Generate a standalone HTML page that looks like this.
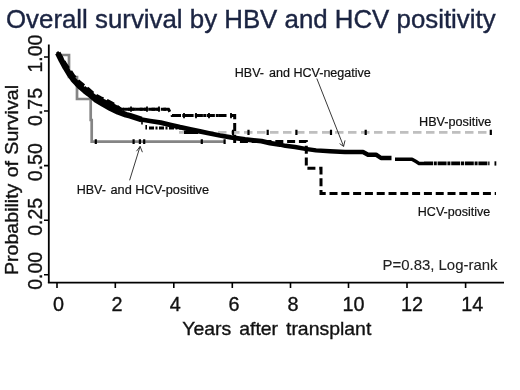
<!DOCTYPE html>
<html><head><meta charset="utf-8"><title>Overall survival by HBV and HCV positivity</title>
<style>
html,body{margin:0;padding:0;background:#fff;}
body{width:520px;height:390px;overflow:hidden;font-family:"Liberation Sans",Arial,sans-serif;}
svg{display:block;}
text{font-family:"Liberation Sans",Arial,sans-serif;stroke:#111;stroke-width:0.35px;}
.t{stroke:#1b2442;stroke-width:0.4px;}
.s{stroke-width:0.1px;}
.sg text{stroke-width:0.2px;}
</style></head><body>
<svg width="520" height="390" viewBox="0 0 520 390">
<rect width="520" height="390" fill="#fff"/>
<!-- title -->
<text class="t" x="6" y="28" font-size="25.6" fill="#1b2442" textLength="489.6" lengthAdjust="spacingAndGlyphs">Overall survival by HBV and HCV positivity</text>

<!-- axes -->
<g stroke="#000" stroke-width="1.8" fill="none">
<path d="M48.8,44.5V283"/>
<path d="M47.9,282.6H504"/>
</g>
<g stroke="#000" stroke-width="1.6" fill="none">
<path d="M44,57H49M44,111H49M44,165.6H49M44,220.2H49M44,274.8H49"/>
<path d="M57,283V288M115.3,283V288M173.8,283V288M232.3,283V288M290.5,283V288M348.5,283V288M407,283V288M465.6,283V288"/>
</g>

<!-- y tick labels -->
<g font-size="19.5" fill="#111" text-anchor="middle">
<text transform="translate(42.2,53.6) rotate(-90)">1.00</text>
<text transform="translate(42.2,107) rotate(-90)">0.75</text>
<text transform="translate(42.2,162.2) rotate(-90)">0.50</text>
<text transform="translate(42.2,216.8) rotate(-90)">0.25</text>
<text transform="translate(42.2,270.8) rotate(-90)">0.00</text>
</g>
<text transform="translate(18.3,275) rotate(-90)" font-size="17.8" word-spacing="0.8" fill="#111" textLength="190" lengthAdjust="spacingAndGlyphs">Probability of Survival</text>

<!-- x tick labels -->
<g font-size="19.8" fill="#111" text-anchor="middle">
<text x="58.5" y="310.6">0</text>
<text x="117" y="310.6">2</text>
<text x="175.3" y="310.6">4</text>
<text x="234" y="310.6">6</text>
<text x="293" y="310.6">8</text>
<text x="353.5" y="310.6">10</text>
<text x="412" y="310.6">12</text>
<text x="472.3" y="310.6">14</text>
</g>
<text x="182.3" y="334.8" font-size="19" word-spacing="2.5" fill="#111" textLength="189" lengthAdjust="spacingAndGlyphs">Years after transplant</text>

<!-- HBV- and HCV-positive : gray solid -->
<path d="M57,55H69V77H77V99H90.7V120H91.7V141.6H224.6" fill="none" stroke="#858585" stroke-width="2.7"/>
<path d="M95.8,139.2V144M133.6,139.2V144M139.9,139.2V144M144.2,139.2V144M201.8,139.2V144M224.6,139.2V144" stroke="#000" stroke-width="2.2" fill="none"/>

<!-- HBV-positive : gray dashed -->
<path d="M179,132.4H491" fill="none" stroke="#bfbfbf" stroke-width="2.7" stroke-dasharray="8.5,4.5"/>
<path d="M233,129.8V135M248.5,129.8V135M267.7,129.8V135M296.4,129.8V135M331,129.8V135M365.7,129.8V135M490.8,129.8V135" stroke="#000" stroke-width="2.2" fill="none"/>
<path d="M142,121V124.5M146.2,125V129.6" stroke="#000" stroke-width="1.6" fill="none"/>
<path d="M149,128H181" stroke="#000" stroke-width="3" stroke-dasharray="5,1.5,2,1.5" fill="none"/>
<path d="M184,132.3H198" stroke="#000" stroke-width="3.4" fill="none"/>

<!-- HCV-positive : black dashed -->
<path d="M57,52 L62,58 L66,64.5 L70,70 L74,76 L78.5,81 L84,85.5 L88.5,89 L94.6,94.3 L101,97.8 L108,100.8 L113,103.5 L117,106.3 L121,109.2 H168.5 L172,115.6 H234.7 V141.4 H306.3 V168.3 H321 V193.4 H496" fill="none" stroke="#000" stroke-width="3" stroke-dasharray="8,3.8"/>

<path d="M123,109.2H166" fill="none" stroke="#000" stroke-width="3" stroke-dasharray="7,1.3,3,1.3"/>
<path d="M178,115.6H222" fill="none" stroke="#000" stroke-width="3" stroke-dasharray="3,1.3,7,1.3"/>
<path d="M131,106.6V111.8M147,106.6V111.8M159,106.6V111.8M184,113V118.2M196,113V118.2M209,113V118.2M231,113V118.2" stroke="#000" stroke-width="1.8" fill="none"/>

<!-- HBV- and HCV-negative : thick black -->
<path d="M57.8,53 L61.5,60.4 L65.4,67.6 L69.2,73.8 L73,79.2 L77,83.6 L80.8,87.4 L84.6,90.6 L88.5,93.6 L95.4,99.4 L103,104 L110.8,108.4 L118,111.8 L126,114.8 L130,115.8 L141.5,119.5" fill="none" stroke="#000" stroke-width="5.8" stroke-linejoin="round" stroke-linecap="butt"/>
<path d="M84,87.5 L88.5,91 L94.6,96 L101,99.5 L108,102.5 L113,105 L117,107.3 L121,109.5" fill="none" stroke="#000" stroke-width="3.5" stroke-linejoin="round"/>
<path d="M141.5,119.5 L150,121 L160.8,122.7 L170,124.8 L180,127.2 L191.5,129.6 L200,131.3 L210,133.5 L220,135.5 L230.8,137.3 L245,139.3 L261.5,141.2 L270,143.2 L280,144.6" fill="none" stroke="#000" stroke-width="4.8" stroke-linejoin="round" stroke-linecap="round"/>
<path d="M280,144.6 L285.4,145.8 L295,147 L305.4,148.8 L316,150.4 L330,151.3 L345,152 H363 L368,154.7 H376 L381,158 H391.5" fill="none" stroke="#000" stroke-width="4.4" stroke-linejoin="round" stroke-linecap="butt"/>
<path d="M395,159.2 H412 L416,161.6 L419,163.4 H424" fill="none" stroke="#000" stroke-width="3.5" stroke-linejoin="round"/>
<path d="M424,163.4 H489.5" fill="none" stroke="#000" stroke-width="3.8" stroke-dasharray="9,0.8,3,0.8"/>
<path d="M495.4,161.3V165.6" stroke="#000" stroke-width="1.8"/>

<!-- labels -->
<g class="sg" font-size="12.5" fill="#111">
<text y="76.6"><tspan x="234.8">HBV- </tspan><tspan x="269" textLength="101.8" lengthAdjust="spacingAndGlyphs">and HCV-negative</tspan></text>
<text x="419" y="126" textLength="72.4" lengthAdjust="spacingAndGlyphs">HBV-positive</text>
<text y="194.3"><tspan x="76.7">HBV- </tspan><tspan x="110.5" textLength="98.5" lengthAdjust="spacingAndGlyphs">and HCV-positive</tspan></text>
<text x="417.8" y="216.4" textLength="72.4" lengthAdjust="spacingAndGlyphs">HCV-positive</text>
</g>
<text class="s" x="382.5" y="269.9" font-size="14.5" fill="#222" textLength="115" lengthAdjust="spacingAndGlyphs">P=0.83, Log-rank</text>

<!-- arrows -->
<g stroke="#222" stroke-width="0.9" fill="none">
<path d="M316.8,78.5 L343.6,146.4"/>
<path d="M339.6,143.6 L343.6,146.4 L345,140.4"/>
<path d="M129.6,180.3 L140.1,146.4"/>
<path d="M136.5,151.2 L140.1,146.4 L142.4,152.2"/>
</g>
</svg>
</body></html>
